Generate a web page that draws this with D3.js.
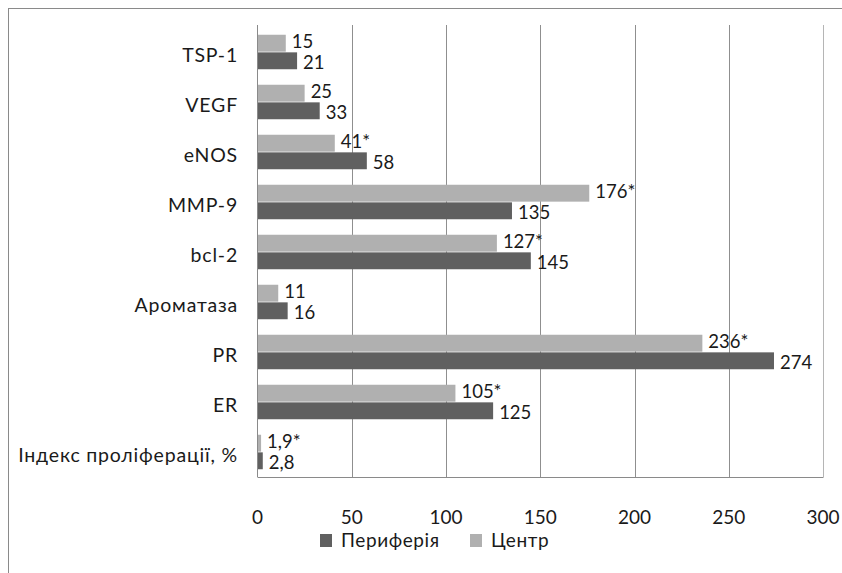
<!DOCTYPE html>
<html>
<head>
<meta charset="utf-8">
<script src="https://cdn.jsdelivr.net/npm/d3@7"></script>
<style>
  html, body { margin: 0; padding: 0; background: #fff; }
  svg { display: block; }
  text { font-family: Lato, "Open Sans", sans-serif; fill: #1a1a1a; }
</style>
</head>
<body>
<svg id="chart" width="842" height="573"></svg>
<script>
// ---- data ----
const categories = ["TSP-1", "VEGF", "eNOS", "MMP-9", "bcl-2", "Ароматаза", "PR", "ER", "Індекс проліферації, %"];
const seriesNames = ["Центр", "Периферія"];
const centerValues    = [15, 25, 41, 176, 127, 11, 236, 105, 1.9];
const peripheryValues = [21, 33, 58, 135, 145, 16, 274, 125, 2.8];
const centerStar      = [false, false, true, true, true, false, true, true, true];
const peripheryStar   = [false, false, false, false, false, false, false, false, false];
const xTicks = [0, 50, 100, 150, 200, 250, 300];
const legendOrder = ["Периферія", "Центр"];

const colors = { "Центр": "#b0b0b0", "Периферія": "#606060" };

const svg = d3.select("#chart");

// outer frame
svg.append("rect")
  .attr("x", 8.5).attr("y", 8.5)
  .attr("width", 842).attr("height", 573)
  .attr("fill", "none").attr("stroke", "#8a8a8a").attr("stroke-width", 1);

const plot = { left: 257.5, right: 823, top: 27, bottom: 477 };

const x = d3.scaleLinear().domain([0, 300]).range([plot.left, plot.right]);
const y = d3.scaleBand().domain(categories).range([plot.top, plot.bottom])
  .paddingInner(0.31).paddingOuter(0.155);
const ys = d3.scaleBand().domain(seriesNames).range([0, y.bandwidth()]).paddingInner(0.04);

// gridlines
const grid = svg.append("g");
grid.selectAll("line").data(xTicks.filter(t => t > 0)).join("line")
  .attr("x1", d => Math.round(x(d)) + 0.5).attr("x2", d => Math.round(x(d)) + 0.5)
  .attr("y1", 25).attr("y2", plot.bottom)
  .attr("stroke", d => d === 300 ? "#b5b5b5" : "#8f8f8f").attr("stroke-width", 1);

// bars
const rows = categories.map((c, i) => ({
  cat: c,
  vals: [
    { s: "Центр", v: centerValues[i], star: centerStar[i] },
    { s: "Периферія", v: peripheryValues[i], star: peripheryStar[i] }
  ]
}));

const fmt = v => String(v).replace(".", ",");

const g = svg.append("g");
const groups = g.selectAll("g").data(rows).join("g")
  .attr("transform", d => `translate(0,${y(d.cat)})`);

groups.selectAll("rect").data(d => d.vals).join("rect")
  .attr("x", x(0))
  .attr("y", d => ys(d.s))
  .attr("width", d => x(d.v) - x(0))
  .attr("height", ys.bandwidth())
  .attr("fill", d => colors[d.s]);

groups.selectAll("text").data(d => d.vals).join("text")
  .attr("x", d => x(d.v) + 6)
  .attr("y", d => ys(d.s) + ys.bandwidth() / 2 + (d.s === "Центр" ? -2 : 1.5))
  .attr("dy", "0.36em")
  .attr("font-size", 18.5)
  .text(d => fmt(d.v) + (d.star ? "*" : ""));

// axes lines
svg.append("line")
  .attr("x1", plot.left).attr("x2", plot.left)
  .attr("y1", 25).attr("y2", plot.bottom)
  .attr("stroke", "#8a8a8a");
svg.append("line")
  .attr("x1", plot.left).attr("x2", plot.right + 0.5)
  .attr("y1", plot.bottom + 0.5).attr("y2", plot.bottom + 0.5)
  .attr("stroke", "#8a8a8a");

// category labels
svg.append("g").selectAll("text").data(categories).join("text")
  .attr("x", 238)
  .attr("y", d => y(d) + y.bandwidth() / 2 + 3)
  .attr("dy", "0.36em")
  .attr("text-anchor", "end")
  .attr("font-size", 19.5)
  .attr("letter-spacing", 0.8)
  .text(d => d);

// x tick labels
svg.append("g").selectAll("text").data(xTicks).join("text")
  .attr("x", d => x(d))
  .attr("y", 517)
  .attr("dy", "0.36em")
  .attr("text-anchor", "middle")
  .attr("font-size", 19)
  .text(d => d);

// legend
const legendX = { "Периферія": 320, "Центр": 470 };
const lg = svg.append("g").selectAll("g").data(legendOrder).join("g")
  .attr("transform", d => `translate(${legendX[d]},534)`);
lg.append("rect").attr("width", 12).attr("height", 13).attr("fill", d => colors[d]);
lg.append("text").attr("x", 21).attr("y", 6.5).attr("dy", "0.36em")
  .attr("font-size", 19).attr("letter-spacing", 0.6).text(d => d);
</script>
</body>
</html>
